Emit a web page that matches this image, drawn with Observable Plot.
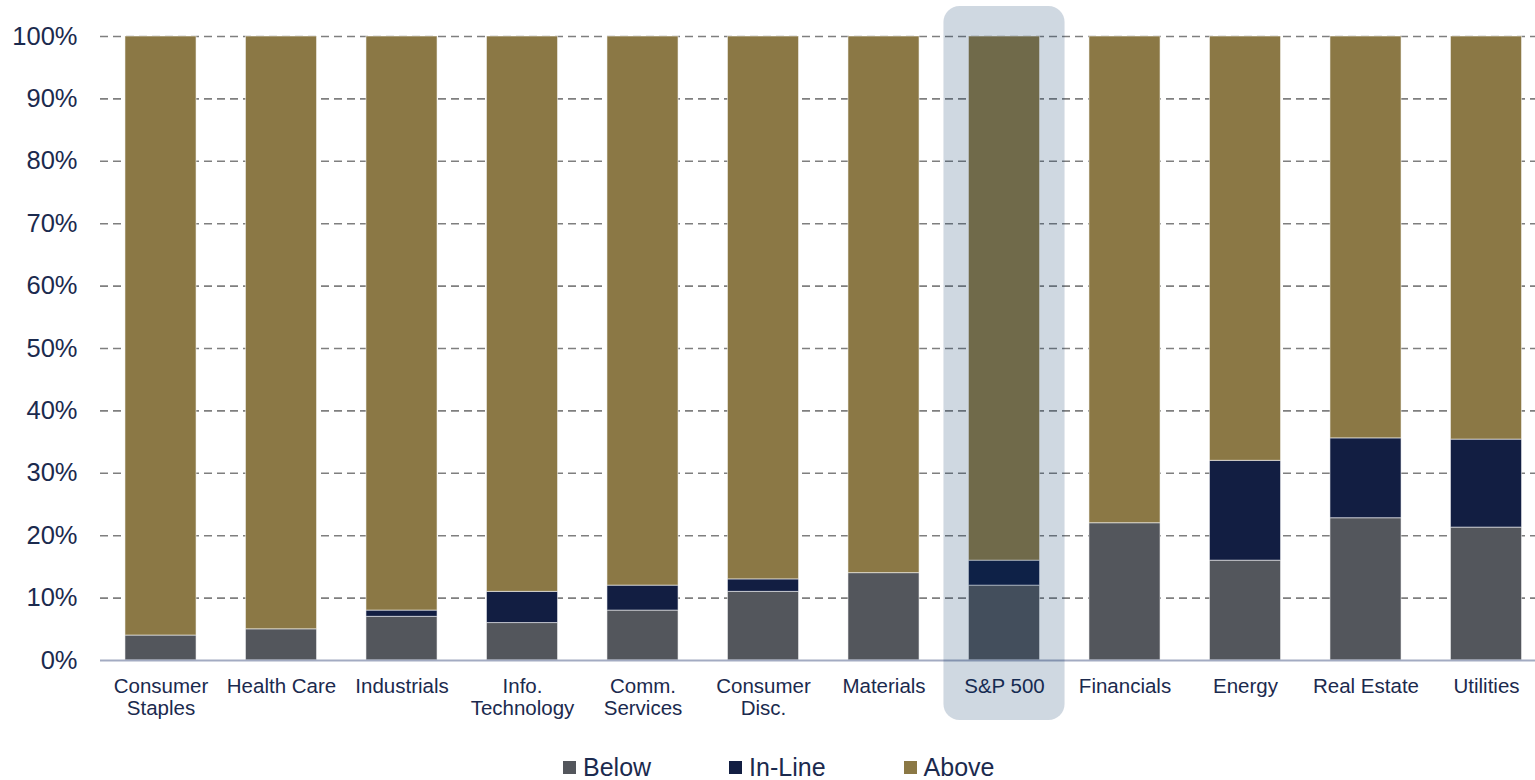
<!DOCTYPE html>
<html>
<head>
<meta charset="utf-8">
<script src="https://cdn.jsdelivr.net/npm/d3@7"></script>
<script src="https://cdn.jsdelivr.net/npm/@observablehq/plot@0.6"></script>
<style>
  html, body { margin: 0; padding: 0; background: #fff; }
  body { width: 1535px; height: 780px; position: relative; overflow: hidden; font-family: "Liberation Sans", Arial, sans-serif; }
  #chart svg { display: block; }
  #legend { position: absolute; left: 563px; top: 754px; display: flex; gap: 78px; font-size: 25px; line-height: 26px; color: #1b2a4e; }
  #legend .item { display: flex; align-items: center; }
  #legend .sw { width: 13px; height: 13px; margin-right: 7px; }
</style>
</head>
<body>
<div id="chart"></div>
<div id="legend"></div>
<script>
const categories = ["Consumer\nStaples", "Health Care", "Industrials", "Info.\nTechnology", "Comm.\nServices", "Consumer\nDisc.", "Materials", "S&P 500", "Financials", "Energy", "Real Estate", "Utilities"];
const below  = [4, 5, 7, 6, 8, 11, 14, 12, 22, 16, 22.8, 21.3];
const inLine = [0, 0, 1, 5, 4, 2, 0, 4, 0, 16, 12.8, 14.1];
const above  = below.map((b, i) => 100 - b - inLine[i]);
const seriesNames = ["Below", "In-Line", "Above"];
const seriesColors = ["#53565c", "#121e42", "#8b7845"];
const yTicks = [0, 10, 20, 30, 40, 50, 60, 70, 80, 90, 100];
const highlighted = "S&P 500";

const rows = [];
categories.forEach((c, i) => {
  rows.push({cat: c, series: "Below", value: below[i]});
  rows.push({cat: c, series: "In-Line", value: inLine[i]});
  rows.push({cat: c, series: "Above", value: above[i]});
});

const textColor = "#1b2a4e";

const chart = Plot.plot({
  width: 1535,
  height: 740,
  marginTop: 36,
  marginBottom: 80,
  marginLeft: 100,
  marginRight: 0,
  style: {fontFamily: "'Liberation Sans', Arial, sans-serif", color: textColor, background: "#fff", overflow: "visible"},
  x: {domain: categories, range: [100.25, 1546.25], paddingInner: 0.41, paddingOuter: 0.205, round: false, label: null},
  y: {domain: [0, 100], ticks: yTicks, label: null},
  color: {domain: seriesNames, range: seriesColors},
  marks: [
    Plot.gridY(yTicks.filter(t => t > 0), {stroke: "#7f7f7f", strokeOpacity: 1, strokeWidth: 1.6, strokeDasharray: "8,5"}),
    Plot.barY(rows, {x: "cat", y: "value", fill: "series", stroke: "#ffffff", strokeOpacity: 0.55, strokeWidth: 1}),
    Plot.ruleY([0], {stroke: "#a3abc2", strokeWidth: 2}),
    Plot.axisY({ticks: yTicks, tickFormat: d => d + "%", tickSize: 0, tickPadding: 23, fontSize: 25.5, fill: textColor, label: null}),
    Plot.axisX({tickSize: 0, tickPadding: 17, fontSize: 20.5, lineHeight: 1.08, fill: textColor, label: null}),
    Plot.barY([{cat: highlighted, lo: -9.6, hi: 104.8}], {x: "cat", y1: "lo", y2: "hi", fill: "#003261", fillOpacity: 0.19, rx: 16, insetLeft: -25, insetRight: -25})
  ]
});
document.getElementById("chart").appendChild(chart);

const legend = document.getElementById("legend");
seriesNames.forEach((s, i) => {
  const item = document.createElement("div");
  item.className = "item";
  const sw = document.createElement("span");
  sw.className = "sw";
  sw.style.background = seriesColors[i];
  const t = document.createElement("span");
  t.textContent = s;
  item.appendChild(sw);
  item.appendChild(t);
  legend.appendChild(item);
});
</script>
</body>
</html>
